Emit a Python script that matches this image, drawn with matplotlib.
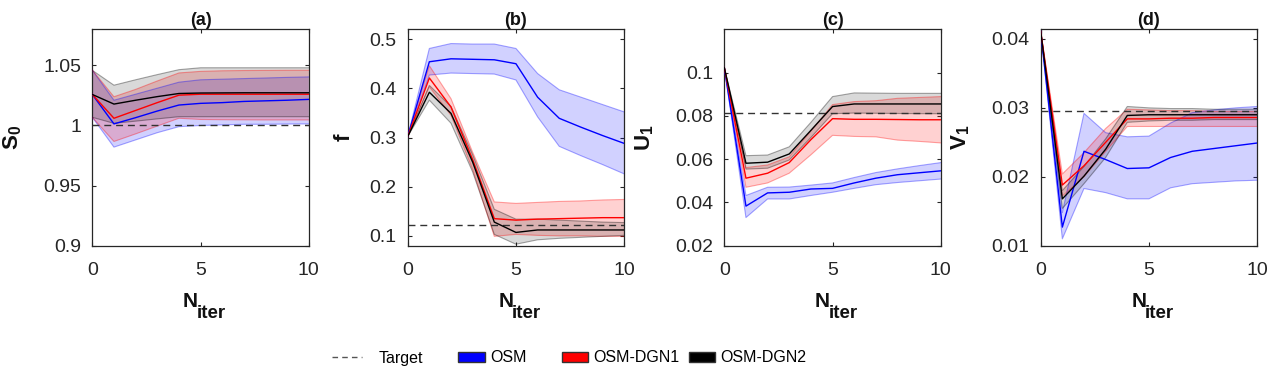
import matplotlib
matplotlib.use("Agg")
import matplotlib.pyplot as plt
from matplotlib.patches import Patch
from matplotlib.lines import Line2D

plt.rcParams['font.family'] = ['Liberation Sans', 'DejaVu Sans']
plt.rcParams['mathtext.fontset'] = 'custom'
plt.rcParams['mathtext.rm'] = 'Liberation Sans'
plt.rcParams['mathtext.bf'] = 'Liberation Sans:bold'
plt.rcParams['mathtext.it'] = 'Liberation Sans:italic'

x = [0, 1, 2, 3, 4, 5, 6, 7, 8, 9, 10]
series_names = ["OSM", "OSM-DGN1", "OSM-DGN2"]
series_colors = ["#0000ff", "#ff0000", "#000000"]

# Panel (a): S0
a_targ = 1.0
a_osm_m = [1.0258, 1.0013, 1.0065, 1.012, 1.017, 1.0184, 1.019, 1.020, 1.0205, 1.021, 1.0217]
a_osm_u = [1.046, 1.021, 1.026, 1.031, 1.036, 1.038, 1.0385, 1.039, 1.0395, 1.040, 1.0404]
a_osm_l = [1.0068, 0.982, 0.988, 0.994, 0.999, 1.000, 1.0005, 1.001, 1.001, 1.0012, 1.0013]
a_d1_m = [1.0258, 1.006, 1.0125, 1.019, 1.0252, 1.026, 1.026, 1.026, 1.026, 1.026, 1.026]
a_d1_u = [1.046, 1.0239, 1.030, 1.037, 1.0437, 1.045, 1.0455, 1.0457, 1.0458, 1.0459, 1.0459]
a_d1_l = [1.0068, 0.9867, 0.993, 0.9995, 1.006, 1.005, 1.0048, 1.0047, 1.0046, 1.0046, 1.0046]
a_d2_m = [1.0258, 1.0178, 1.021, 1.024, 1.0266, 1.027, 1.0271, 1.0272, 1.0272, 1.0272, 1.0272]
a_d2_u = [1.0459, 1.0335, 1.038, 1.0423, 1.0464, 1.048, 1.048, 1.048, 1.048, 1.048, 1.048]
a_d2_l = [1.0068, 1.0018, 1.0036, 1.0055, 1.0073, 1.0073, 1.0073, 1.0073, 1.0073, 1.0073, 1.0073]

# Panel (b): f
b_targ = 0.122
b_osm_m = [0.302, 0.454, 0.460, 0.459, 0.458, 0.450, 0.382, 0.339, 0.321, 0.304, 0.288]
b_osm_u = [0.302, 0.481, 0.491, 0.490, 0.490, 0.481, 0.430, 0.397, 0.382, 0.367, 0.352]
b_osm_l = [0.302, 0.427, 0.431, 0.430, 0.429, 0.417, 0.342, 0.282, 0.263, 0.245, 0.226]
b_d1_m = [0.302, 0.421, 0.362, 0.255, 0.135, 0.132, 0.134, 0.135, 0.136, 0.137, 0.137]
b_d1_u = [0.302, 0.446, 0.379, 0.270, 0.169, 0.166, 0.168, 0.170, 0.171, 0.173, 0.174]
b_d1_l = [0.302, 0.403, 0.345, 0.235, 0.099, 0.103, 0.101, 0.100, 0.100, 0.099, 0.099]
b_d2_m = [0.302, 0.392, 0.349, 0.250, 0.128, 0.107, 0.112, 0.112, 0.112, 0.112, 0.112]
b_d2_u = [0.302, 0.406, 0.363, 0.265, 0.154, 0.134, 0.134, 0.132, 0.130, 0.128, 0.127]
b_d2_l = [0.302, 0.376, 0.329, 0.230, 0.103, 0.083, 0.092, 0.095, 0.097, 0.099, 0.101]

# Panel (c): U1
c_targ = 0.0814
c_osm_m = [0.1023, 0.0383, 0.0444, 0.0447, 0.0462, 0.0465, 0.0490, 0.0512, 0.0528, 0.0537, 0.0546]
c_osm_u = [0.1023, 0.0432, 0.0470, 0.0471, 0.0480, 0.0490, 0.0515, 0.0538, 0.0555, 0.0570, 0.0584]
c_osm_l = [0.1023, 0.0330, 0.0416, 0.0416, 0.0432, 0.0447, 0.0465, 0.0482, 0.0492, 0.0500, 0.0508]
c_d1_m = [0.1023, 0.0512, 0.0535, 0.0584, 0.0690, 0.0787, 0.0784, 0.0784, 0.0783, 0.0782, 0.0782]
c_d1_u = [0.1023, 0.0561, 0.0573, 0.0611, 0.0730, 0.0852, 0.0866, 0.0870, 0.0881, 0.0885, 0.0889]
c_d1_l = [0.1023, 0.0470, 0.0490, 0.0535, 0.0620, 0.0710, 0.0705, 0.0703, 0.0688, 0.0682, 0.0675]
c_d2_m = [0.1023, 0.0581, 0.0586, 0.0624, 0.0733, 0.0843, 0.0855, 0.0855, 0.0855, 0.0855, 0.0855]
c_d2_u = [0.1023, 0.0616, 0.0619, 0.0657, 0.0770, 0.0889, 0.0906, 0.0905, 0.0904, 0.0904, 0.0904]
c_d2_l = [0.1023, 0.0554, 0.0558, 0.0596, 0.0700, 0.0810, 0.0813, 0.0812, 0.0811, 0.0810, 0.0810]

# Panel (d): V1
d_targ = 0.0296
d_osm_m = [0.0411, 0.0127, 0.0237, 0.0225, 0.0212, 0.0213, 0.0228, 0.0237, 0.0241, 0.0245, 0.0249]
d_osm_u = [0.0411, 0.0148, 0.0292, 0.0264, 0.0258, 0.0259, 0.0278, 0.0293, 0.0297, 0.0300, 0.0302]
d_osm_l = [0.0411, 0.0110, 0.0183, 0.0177, 0.0168, 0.0168, 0.0184, 0.0190, 0.0192, 0.0194, 0.0195]
d_d1_m = [0.0411, 0.0188, 0.0216, 0.0250, 0.0284, 0.0284, 0.0285, 0.0285, 0.0286, 0.0286, 0.0286]
d_d1_u = [0.0411, 0.0204, 0.0235, 0.0270, 0.0298, 0.0297, 0.0296, 0.0296, 0.0295, 0.0295, 0.0295]
d_d1_l = [0.0411, 0.0172, 0.0200, 0.0237, 0.0273, 0.0273, 0.0273, 0.0273, 0.0273, 0.0273, 0.0273]
d_d2_m = [0.0411, 0.0168, 0.0201, 0.0240, 0.0289, 0.0290, 0.0290, 0.0290, 0.0290, 0.0290, 0.0290]
d_d2_u = [0.0411, 0.0180, 0.0215, 0.0255, 0.0302, 0.0300, 0.0299, 0.0299, 0.0298, 0.0298, 0.0298]
d_d2_l = [0.0411, 0.0154, 0.0190, 0.0228, 0.0279, 0.0281, 0.0282, 0.0282, 0.0283, 0.0283, 0.0283]

panels = [
    dict(title="(a)", ylabel=r"$\mathbf{S_0}$", ylim=(0.9, 1.08), yticks=[0.9, 0.95, 1.0, 1.05],
         ytl=["0.9", "0.95", "1", "1.05"], targ=a_targ, lpad=14,
         series=[(a_osm_m, a_osm_u, a_osm_l), (a_d1_m, a_d1_u, a_d1_l), (a_d2_m, a_d2_u, a_d2_l)]),
    dict(title="(b)", ylabel=r"$\mathbf{f}$", ylim=(0.08, 0.52), yticks=[0.1, 0.2, 0.3, 0.4, 0.5],
         ytl=["0.1", "0.2", "0.3", "0.4", "0.5"], targ=b_targ, lpad=10,
         series=[(b_osm_m, b_osm_u, b_osm_l), (b_d1_m, b_d1_u, b_d1_l), (b_d2_m, b_d2_u, b_d2_l)]),
    dict(title="(c)", ylabel=r"$\mathbf{U_1}$", ylim=(0.02, 0.12), yticks=[0.02, 0.04, 0.06, 0.08, 0.1],
         ytl=["0.02", "0.04", "0.06", "0.08", "0.1"], targ=c_targ, lpad=14,
         series=[(c_osm_m, c_osm_u, c_osm_l), (c_d1_m, c_d1_u, c_d1_l), (c_d2_m, c_d2_u, c_d2_l)]),
    dict(title="(d)", ylabel=r"$\mathbf{V_1}$", ylim=(0.01, 0.0414), yticks=[0.01, 0.02, 0.03, 0.04],
         ytl=["0.01", "0.02", "0.03", "0.04"], targ=d_targ, lpad=14,
         series=[(d_osm_m, d_osm_u, d_osm_l), (d_d1_m, d_d1_u, d_d1_l), (d_d2_m, d_d2_u, d_d2_l)]),
]

fig = plt.figure(figsize=(12.7, 3.78), dpi=100)
lefts_px = [92.3, 407.7, 724.3, 1040.7]
W, H = 1270.0, 378.0
ax_w = 216.5 / W
ax_b = 1 - 245.7 / H
ax_h = (245.7 - 29.3) / H
tick_col = "#262626"
PX = 0.72  # points per pixel at 100 dpi

for lp, p in zip(lefts_px, panels):
    ax = fig.add_axes([lp / W, ax_b, ax_w, ax_h])
    for (m, u, l), col in zip(p["series"], series_colors):
        fa = 0.15 if col == "#000000" else 0.18
        ax.fill_between(x, l, u, facecolor=col, alpha=fa, linewidth=0, zorder=2)
        ax.plot(x, u, color=col, alpha=0.35, lw=0.8, zorder=3)
        ax.plot(x, l, color=col, alpha=0.35, lw=0.8, zorder=3)
    ax.axhline(p["targ"], color="#333333", ls=(0, (5, 3.5)), lw=1.0, zorder=4)
    for (m, u, l), col in zip(p["series"], series_colors):
        ax.plot(x, m, color=col, lw=1.0, zorder=5)
    ax.set_xlim(0, 10)
    ax.set_ylim(*p["ylim"])
    ax.set_xticks([0, 5, 10])
    ax.set_yticks(p["yticks"])
    ax.set_yticklabels(p["ytl"])
    ax.tick_params(direction="in", top=True, right=True, labelsize=14, colors=tick_col,
                   length=3, width=0.8)
    ax.tick_params(axis="y", pad=8)
    ax.tick_params(axis="x", pad=12)
    for s in ax.spines.values():
        s.set_color(tick_col)
        s.set_linewidth(0.9)
    ax.set_title(p["title"], fontsize=13, fontweight="bold", pad=3, color="#111111")
    # x label "N_iter" with MATLAB-like large subscript
    ax.annotate("N", xy=(0, 0), xycoords="axes fraction",
                xytext=(90.5 * PX, -61.5 * PX), textcoords="offset points",
                ha="left", va="baseline", fontsize=15, fontweight="bold", color="#111111")
    ax.annotate("iter", xy=(0, 0), xycoords="axes fraction",
                xytext=(104 * PX, -72.5 * PX), textcoords="offset points",
                ha="left", va="baseline", fontsize=13.5, fontweight="bold", color="#111111")
    ax.set_ylabel(p["ylabel"], fontsize=16, labelpad=p["lpad"], color="#111111")

leg_fs = 11.5
leg_y = 1 - 358.0 / H
entries = [
    (Line2D([0], [0], color="#555555", ls=(0, (4, 3)), lw=1.0), "Target", 332, 1.9, 1.0),
    (Patch(facecolor="#0000ff", edgecolor="#333333"), "OSM", 458, 1.7, 0.3),
    (Patch(facecolor="#ff0000", edgecolor="#333333"), "OSM-DGN1", 562, 1.6, 0.35),
    (Patch(facecolor="#000000", edgecolor="#333333"), "OSM-DGN2", 689, 1.65, 0.3),
]
for h, lab, xp, hl, tp in entries:
    fig.legend([h], [lab], loc="center left", bbox_to_anchor=(xp / W, leg_y),
               frameon=False, fontsize=leg_fs, handlelength=hl, handleheight=0.55,
               handletextpad=tp, borderpad=0, borderaxespad=0)

fig.savefig("out.png", dpi=100)
